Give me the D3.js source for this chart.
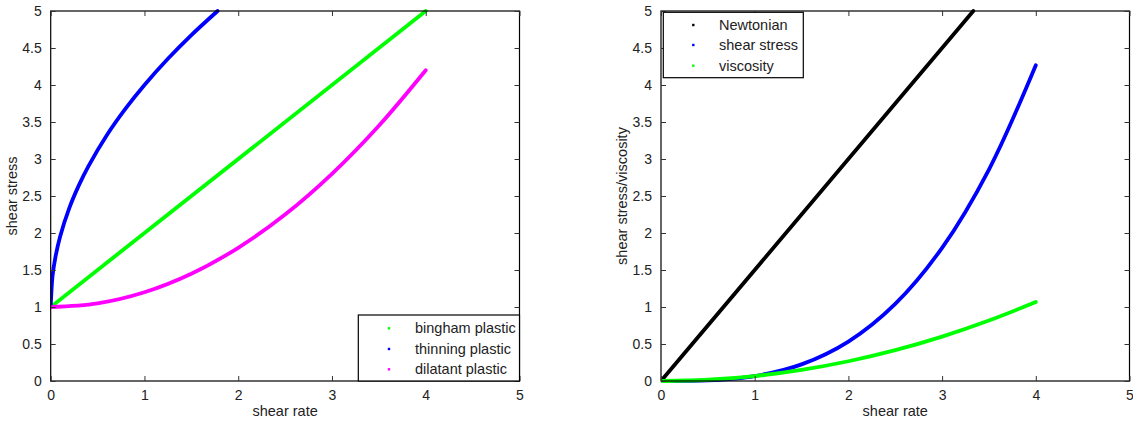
<!DOCTYPE html>
<html><head><meta charset="utf-8">
<script src="https://cdn.jsdelivr.net/npm/d3@7"></script>
<style>
body{margin:0;background:#fff;}
svg{display:block;}
text{font-family:"Liberation Sans",Arial,Helvetica,sans-serif;fill:#222;}
</style></head><body>
<svg id="c" width="1133" height="423"></svg>
<script>
// ---- data ----
const xTicks = [0, 1, 2, 3, 4, 5];
const yTicks = [0, 0.5, 1, 1.5, 2, 2.5, 3, 3.5, 4, 4.5, 5];
const yTickLabels = ["0","0.5","1","1.5","2","2.5","3","3.5","4","4.5","5"];

// left panel
const binghamX = [0, 4];
const binghamY = [1, 5];
const thinningX = [0, 0.02, 0.05, 0.1, 0.2, 0.3, 0.4, 0.6, 0.8, 1.0, 1.25, 1.5, 1.78];
const thinningY = [1, 1.424, 1.671, 1.949, 2.342, 2.643, 2.897, 3.324, 3.683, 4.0, 4.354, 4.674, 5.0];
const dilatantX = [0, 0.5, 1, 1.5, 2, 2.5, 3, 3.5, 4];
const dilatantY = [1, 1.05, 1.2, 1.45, 1.8, 2.25, 2.8, 3.45, 4.2];
const leftLegend = ["bingham plastic", "thinning plastic", "dilatant plastic"];

// right panel
const newtonX = [0, 3.333];
const newtonY = [0, 5];
const rateX = [0, 0.5, 1, 1.5, 2, 2.5, 3, 3.5, 4];
const stressY = [0, 0.0083, 0.0667, 0.225, 0.533, 1.042, 1.8, 2.858, 4.267];
const viscosityY = [0, 0.0167, 0.0667, 0.15, 0.267, 0.417, 0.6, 0.817, 1.067];
const rightLegend = ["Newtonian", "shear stress", "viscosity"];

const svg = d3.select("#c");

function panel(cfg){
  const g = svg.append("g");
  const x = d3.scaleLinear().domain([0,5]).range([cfg.x0, cfg.x1]);
  const y = d3.scaleLinear().domain([0,5]).range([381, 11]);
  const id = "clip" + cfg.name;
  svg.append("clipPath").attr("id", id).append("rect")
    .attr("x", cfg.x0).attr("y", 9).attr("width", cfg.x1 - cfg.x0 + 2).attr("height", 374);

  const line = d3.line().x(d=>x(d[0])).y(d=>y(d[1])).curve(d3.curveCatmullRom);
  cfg.series.forEach(s=>{
    const pts = s.xs.map((v,i)=>[v, s.ys[i]]);
    g.append("path").attr("d", line(pts)).attr("fill","none")
      .attr("stroke", s.color).attr("stroke-width", 3.8)
      .attr("stroke-linecap","round").attr("clip-path", `url(#${id})`);
  });

  // box
  g.append("rect").attr("x", cfg.x0).attr("y", 11).attr("width", cfg.x1-cfg.x0).attr("height", 370)
    .attr("fill","none").attr("stroke","#000").attr("stroke-width",1.2);

  // axes (inward ticks on all sides)
  const ax = (axis, tr) => g.append("g").attr("transform", tr).call(axis)
    .call(a=>a.select(".domain").remove());
  const bottom = ax(d3.axisBottom(x).tickValues(xTicks).tickSize(-5).tickPadding(9).tickFormat(d3.format("d")), "translate(0,381)");
  bottom.selectAll("text").attr("font-size", 14).attr("fill","#222");
  const top = ax(d3.axisTop(x).tickValues(xTicks).tickSize(-5).tickFormat(""), "translate(0,11)");
  const left = ax(d3.axisLeft(y).tickValues(yTicks).tickSize(-5).tickPadding(9).tickFormat((d,i)=>yTickLabels[i]), `translate(${cfg.x0},0)`);
  left.selectAll("text").attr("font-size", 14).attr("fill","#222");
  const right = ax(d3.axisRight(y).tickValues(yTicks).tickSize(-5).tickFormat(""), `translate(${cfg.x1},0)`);
  g.selectAll(".tick line").attr("stroke","#333").attr("stroke-width",1);
  g.selectAll(".tick text").attr("font-family","Liberation Sans, Arial, sans-serif");

  // axis labels
  g.append("text").attr("x", (cfg.x0+cfg.x1)/2).attr("y", 416).attr("text-anchor","middle")
    .attr("font-size", 14.5).text("shear rate");
  g.append("text").attr("transform", `translate(${cfg.ylx},196) rotate(-90)`).attr("text-anchor","middle")
    .attr("font-size", 14.5).text(cfg.ylabel);

  // legend
  const L = cfg.legend;
  g.append("rect").attr("x", L.x).attr("y", L.y).attr("width", L.w).attr("height", L.h)
    .attr("fill","#fff").attr("stroke","#000").attr("stroke-width",1.2);
  cfg.series.forEach((s,i)=>{
    const ry = L.rows[i];
    g.append("rect").attr("x", L.dotX-1.2).attr("y", ry-1.2).attr("width",2.4).attr("height",2.4).attr("fill", s.color);
    g.append("text").attr("x", L.textX).attr("y", ry).attr("dy","0.35em").attr("font-size",14.5).text(s.label);
  });
}

panel({
  name:"L", x0:50.7, x1:519.5, ylabel:"shear stress", ylx:17,
  series:[
    {xs:binghamX, ys:binghamY, color:"#00ff00", label:leftLegend[0]},
    {xs:thinningX, ys:thinningY, color:"#0000ff", label:leftLegend[1]},
    {xs:dilatantX, ys:dilatantY, color:"#ff00ff", label:leftLegend[2]}
  ],
  legend:{x:358.3, y:315, w:161.2, h:66, rows:[328.3,349,369.3], dotX:389, textX:415}
});

panel({
  name:"R", x0:661, x1:1129.5, ylabel:"shear stress/viscosity", ylx:627,
  series:[
    {xs:newtonX, ys:newtonY, color:"#000000", label:rightLegend[0]},
    {xs:rateX, ys:stressY, color:"#0000ff", label:rightLegend[1]},
    {xs:rateX, ys:viscosityY, color:"#00ff00", label:rightLegend[2]}
  ],
  legend:{x:663.3, y:12.3, w:140, h:65.4, rows:[25,45,65.7], dotX:693.3, textX:719}
});
</script>
</body></html>
